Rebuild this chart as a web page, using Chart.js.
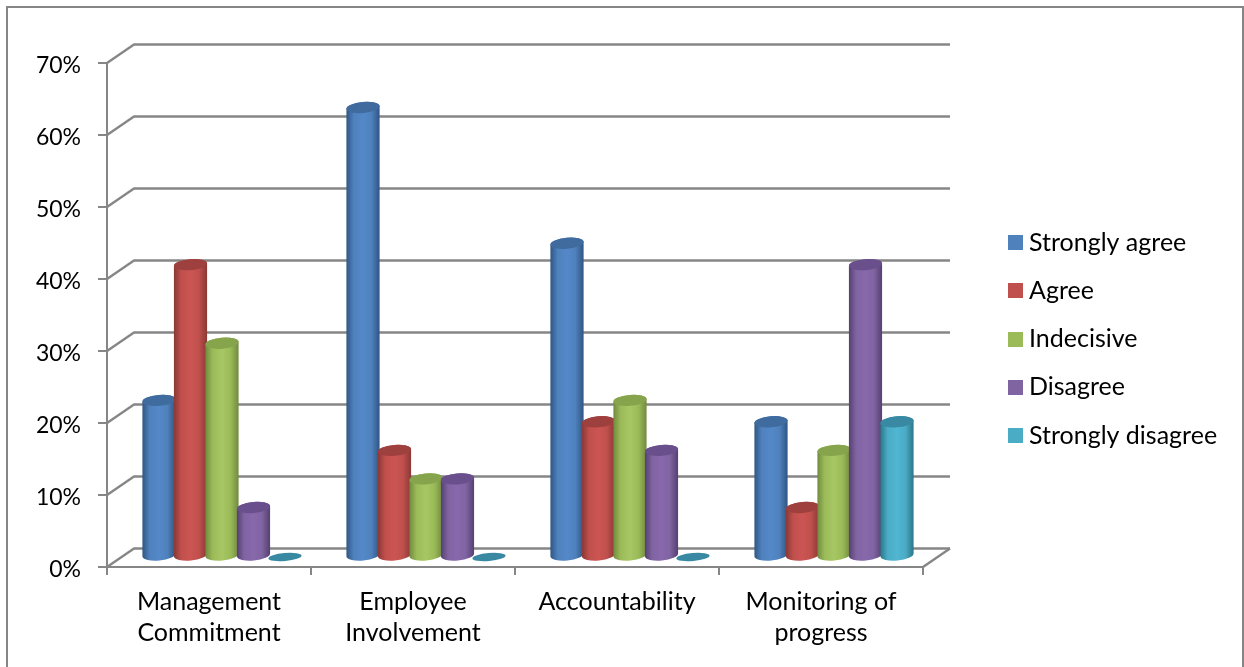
<!DOCTYPE html>
<html><head><meta charset="utf-8">
<style>html,body{margin:0;padding:0;background:#fff}canvas{display:block}</style>
<script src="https://cdn.jsdelivr.net/npm/chart.js@4"></script></head>
<body><canvas id="c" width="1244" height="667"></canvas>
<script>
const categories = [["Management","Commitment"],["Employee","Involvement"],"Accountability",["Monitoring of","progress"]];
const stronglyAgree = [22,63,44,19];
const agree = [41,15,19,7];
const indecisive = [30,11,22,15];
const disagree = [7,11,15,41];
const stronglyDisagree = [0,0,0,19];
const seriesNames = ["Strongly agree","Agree","Indecisive","Disagree","Strongly disagree"];
const seriesValues = [stronglyAgree,agree,indecisive,disagree,stronglyDisagree];
const baseColors = ["#4F81BD","#C0504D","#9BBB59","#8064A2","#4BACC6"];
const lightColors = ["#5488C8","#CC5553","#A6C763","#8868AC","#50B6D2"];
const darkColors = ["#2F5583","#893835","#718A3F","#55406F","#2C7688"];
const capColors = ["#3F6B9F","#9E403D","#86A44C","#694F8B","#3889A1"];
const GRID="#868686", FONT="Lato";
const DX_BAR=13, DY_BASE=-11, DY_TOP=-9.5, DX_BACK=27, DY_BACK=-18.5, TILT=-5*Math.PI/180, RY=5.5, DEPTH_SCALE=0.992;

function swatch(color){const s=document.createElement('canvas');s.width=15;s.height=15;const g=s.getContext('2d');g.fillStyle=color;g.fillRect(0,0,15,15);return s;}

const look3d={
  id:'look3d',
  beforeLayout(chart){
    const l=chart.legend;
    if(l && !l._wrapped){const f=l.fit;l.fit=function(){f.call(this);this.width=321;};l._wrapped=true;}
  },
  afterLayout(chart){
    const l=chart.legend, p=l.options.labels.padding;
    l.left=1014.5-p; l.right=1244; l.top=230-p; l.bottom=667;
  },
  beforeDraw(chart){
    const c=chart.ctx;c.save();c.strokeStyle=GRID;c.lineWidth=2;c.strokeRect(7,7,1236,720);c.restore();
  },
  beforeDatasetsDraw(chart){
    const c=chart.ctx,a=chart.chartArea,y=chart.scales.y;
    c.save();c.strokeStyle=GRID;c.lineWidth=2.4;c.lineJoin='round';
    y.ticks.forEach(t=>{
      const py=y.getPixelForValue(t.value);
      c.beginPath();c.moveTo(a.left,py);c.lineTo(a.left+DX_BACK,py+DY_BACK);c.lineTo(a.right+DX_BACK,py+DY_BACK);c.stroke();
    });
    c.beginPath();c.moveTo(a.right,a.bottom);c.lineTo(a.right+DX_BACK,a.bottom+DY_BACK);c.stroke();
    c.restore();
    chart.data.datasets.forEach((d,i)=>{
      chart.getDatasetMeta(i).data.forEach(el=>{
        const cx=el.x+DX_BAR, rx=el.width/2+0.9, h=el.base-el.y, base=el.base+DY_BASE, top=el.base+DY_TOP-h*DEPTH_SCALE;
        if(h>0.5){
          const g=c.createLinearGradient(cx-rx,0,cx+rx,0);
          g.addColorStop(0,darkColors[i]);g.addColorStop(0.22,baseColors[i]);g.addColorStop(0.5,lightColors[i]);
          g.addColorStop(0.75,baseColors[i]);g.addColorStop(1,darkColors[i]);
          c.beginPath();
          c.ellipse(cx,base,rx,RY,TILT,0,Math.PI,false);
          c.ellipse(cx,top,rx,RY,TILT,Math.PI,2*Math.PI,false);
          c.closePath();c.fillStyle=g;c.fill();
          c.beginPath();c.ellipse(cx,top,rx,RY,TILT,0,2*Math.PI);
        } else {
          c.beginPath();c.ellipse(cx,base+1,rx,4,TILT,0,2*Math.PI);
        }
        c.fillStyle=capColors[i];c.fill();
      });
    });
  },
  beforeDatasetDraw(){return false;}
};

new Chart(document.getElementById('c'),{
  type:'bar',
  data:{labels:categories,datasets:seriesNames.map((n,i)=>({label:n,data:seriesValues[i],backgroundColor:baseColors[i],categoryPercentage:0.772,barPercentage:1}))},
  plugins:[look3d],
  options:{
    responsive:false,animation:false,
    layout:{padding:{left:0,right:0,top:63,bottom:0}},
    plugins:{
      tooltip:{enabled:false},
      legend:{position:'right',align:'start',labels:{
        font:{family:FONT,size:25,lineHeight:1},color:'#000',padding:23.25,boxHeight:15,usePointStyle:true,pointStyleWidth:2,
        generateLabels:(chart)=>chart.data.datasets.map((d,i)=>({text:d.label,fontColor:'#000',fillStyle:baseColors[i],strokeStyle:baseColors[i],lineWidth:0,pointStyle:swatch(baseColors[i]),datasetIndex:i,hidden:false}))
      }}
    },
    scales:{
      x:{
        afterFit(s){s.height=100;},
        grid:{drawOnChartArea:false,color:GRID,lineWidth:2,tickLength:8},
        border:{color:GRID,width:2},
        ticks:{font:{family:FONT,size:25,lineHeight:1.24},color:'#000',autoSkip:false,maxRotation:0,minRotation:0,padding:11}
      },
      y:{
        afterFit(s){s.width=107;},
        min:0,max:70,
        grid:{drawOnChartArea:false,color:GRID,lineWidth:2,tickLength:9},
        border:{color:GRID,width:2},
        ticks:{stepSize:10,font:{family:FONT,size:23},color:'#000',padding:17,labelOffset:3,callback:v=>v+'%'}
      }
    }
  }
});
</script></body></html>
